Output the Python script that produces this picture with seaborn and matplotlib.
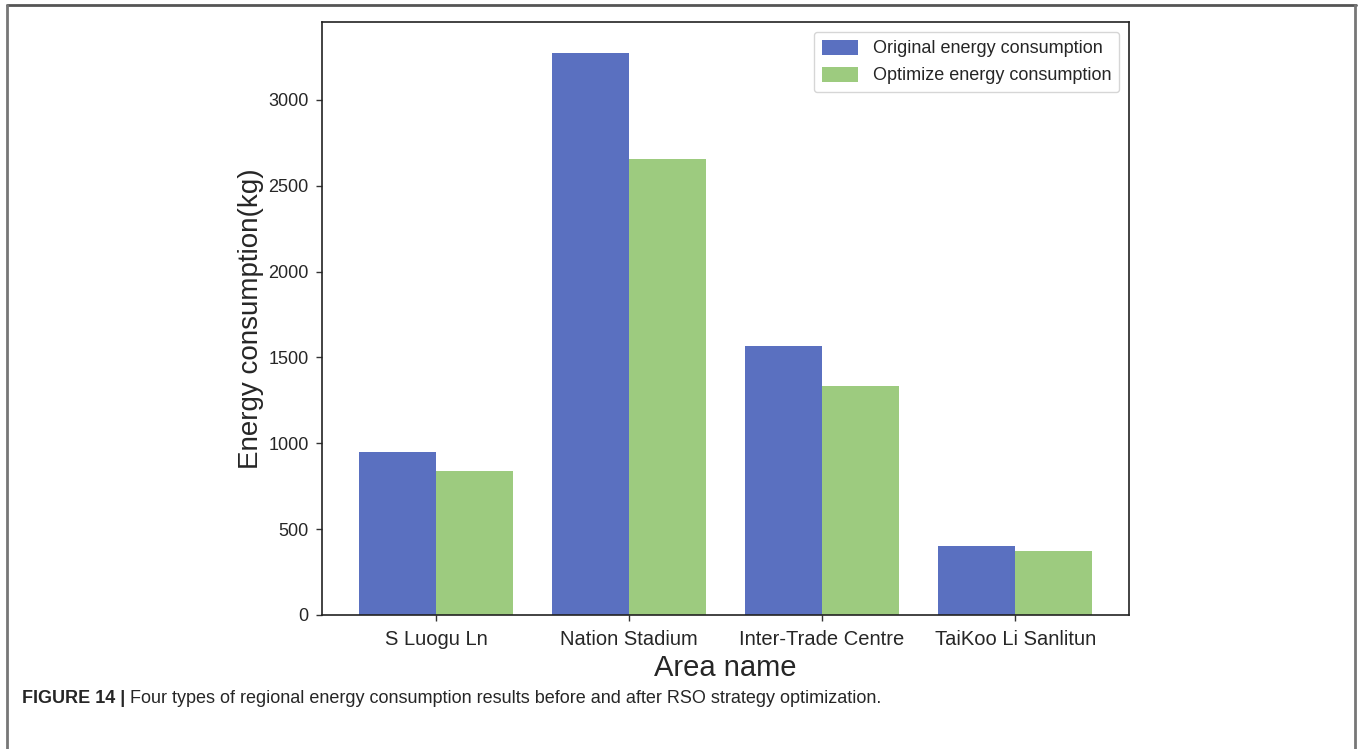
import pandas as pd
import matplotlib.pyplot as plt
import seaborn as sns
from matplotlib.lines import Line2D

# data
areas = ['S Luogu Ln', 'Nation Stadium', 'Inter-Trade Centre', 'TaiKoo Li Sanlitun']
original = [950, 3275, 1568, 402]
optimized = [839, 2657, 1334, 373]
series_names = ['Original energy consumption', 'Optimize energy consumption']
colors = ['#5A70C0', '#9DCB7F']

df = pd.DataFrame({
    'area': areas * 2,
    'series': [series_names[0]] * len(areas) + [series_names[1]] * len(areas),
    'value': original + optimized,
})

sns.set_style('white')
plt.rcParams['font.family'] = ['Liberation Sans', 'DejaVu Sans']

fig = plt.figure(figsize=(13.6, 7.49), dpi=100)
ax = fig.add_axes([0.2368, 0.179, 0.5934, 0.792])

sns.barplot(data=df, x='area', y='value', hue='series', order=areas,
            hue_order=series_names, palette=colors, width=0.8,
            saturation=1, linewidth=0, ax=ax)

ax.set_xlim(-0.59, 3.59)
ax.set_ylim(0, 3455)
ax.set_yticks([0, 500, 1000, 1500, 2000, 2500, 3000])
ax.set_xlabel('Area name', fontsize=21, labelpad=4)
ax.set_ylabel('Energy consumption(kg)', fontsize=20, labelpad=3)
ax.tick_params(axis='x', labelsize=14.5, length=4.5, width=1, bottom=True, color='#333333', pad=6)
ax.tick_params(axis='y', labelsize=13, length=4.5, width=1, left=True, color='#333333', pad=5)
for s in ax.spines.values():
    s.set_color('#222222')
    s.set_linewidth(1.2)

leg = ax.legend(loc='upper right', fontsize=13, frameon=True, fancybox=True,
                borderpad=0.45, handlelength=2.0, handleheight=0.9,
                borderaxespad=0.55)
leg.set_title(None)
leg.get_frame().set_edgecolor('#cccccc')

# outer frame of the figure panel
fig.add_artist(Line2D([0.0051, 0.997], [0.9933, 0.9933], color='#555555', lw=2))
fig.add_artist(Line2D([0.0051, 0.0051], [0.0, 0.9933], color='#777777', lw=2))
fig.add_artist(Line2D([0.9965, 0.9965], [0.0, 0.9933], color='#777777', lw=2))

# caption: bold label, then the sentence right after it
cap_y = 0.061
t1 = fig.text(0.016, cap_y, 'FIGURE 14 |', fontsize=13, fontweight='bold', va='baseline')
fig.canvas.draw()
bb = t1.get_window_extent(renderer=fig.canvas.get_renderer())
x2 = (bb.x1 + 5) / fig.bbox.width
fig.text(x2, cap_y, 'Four types of regional energy consumption results before and after RSO strategy optimization.',
         fontsize=13, va='baseline')

fig.savefig('out.png', dpi=100)
